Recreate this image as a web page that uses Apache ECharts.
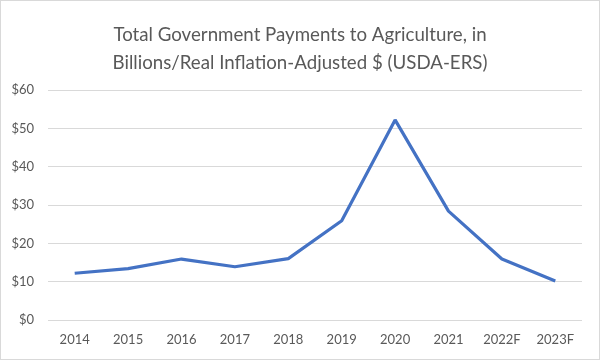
<!DOCTYPE html>
<html><head><meta charset="utf-8">
<script src="https://cdn.jsdelivr.net/npm/echarts@6/dist/echarts.min.js"></script>
<style>html,body{margin:0;padding:0;background:#fff}#c{width:600px;height:360px;box-sizing:border-box;border:1px solid #d9d9d9}</style>
</head><body><div id="c"></div>
<script>
const categories = ['2014','2015','2016','2017','2018','2019','2020','2021','2022F','2023F'];
const payments = [12.2, 13.4, 15.9, 13.9, 16.0, 25.9, 52.2, 28.4, 15.9, 10.2];
const titleText = 'Total Government Payments to Agriculture, in\nBillions/Real Inflation-Adjusted $ (USDA-ERS)';
const chart = echarts.init(document.getElementById('c'));
chart.setOption({
  animation: false,
  title: {
    text: titleText, left: 'center', top: 15,
    textStyle: {fontFamily: 'Lato', fontSize: 18.7, fontWeight: 'normal', color: '#595959', lineHeight: 28}
  },
  grid: {left: 47, right: 17, top: 89, bottom: 39},
  xAxis: {
    type: 'category', data: categories, boundaryGap: true,
    axisLine: {show: false}, axisTick: {show: false},
    axisLabel: {color: '#595959', fontSize: 13, fontFamily: 'Lato', margin: 13}
  },
  yAxis: {
    type: 'value', min: 0, max: 60, interval: 10,
    axisLabel: {color: '#595959', fontSize: 13, fontFamily: 'Lato', formatter: v => '$' + v, margin: 14},
    splitLine: {lineStyle: {color: '#d9d9d9', width: 1}},
    axisLine: {show: false}, axisTick: {show: false}
  },
  series: [{
    type: 'line', data: payments, symbol: 'none',
    lineStyle: {color: '#4472C4', width: 3.2}
  }]
});
</script></body></html>
